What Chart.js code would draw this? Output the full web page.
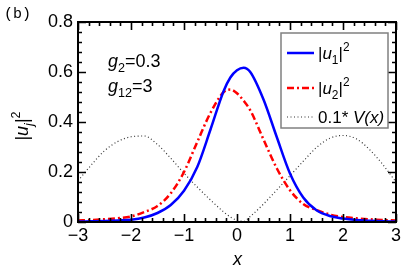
<!DOCTYPE html>
<html lang="en">
<head>
    <meta charset="UTF-8">
    <title>|u_j|^2</title>
    <script src="https://cdn.jsdelivr.net/npm/chart.js"></script>
</head>
<style>
    body {
        margin: 0;
        background-color: #fff;
    }
    canvas {
        display: block;
    }
</style>
<body>

<canvas id="waveChart" width="407" height="273"></canvas>

<script>
    // valores
    const xs   = [-3, -2.75, -2.5, -2.25, -2, -1.75, -1.5, -1.25, -1, -0.75, -0.5, -0.25, -0.125, 0, 0.125, 0.25, 0.5, 0.75, 1, 1.25, 1.5, 1.75, 2, 2.25, 2.5, 2.75, 3];
    const u1sq = [0.002, 0.003, 0.004, 0.006, 0.009, 0.018, 0.036, 0.068, 0.125, 0.22, 0.37, 0.525, 0.578, 0.607, 0.617, 0.60, 0.49, 0.34, 0.194, 0.098, 0.047, 0.024, 0.014, 0.008, 0.005, 0.003, 0.002];
    const u2sq = [0.006, 0.008, 0.011, 0.015, 0.022, 0.04, 0.064, 0.115, 0.2, 0.32, 0.437, 0.52, 0.53, 0.515, 0.485, 0.447, 0.33, 0.215, 0.127, 0.072, 0.048, 0.03, 0.02, 0.015, 0.011, 0.008, 0.006];
    const potV = [0.165, 0.228, 0.285, 0.322, 0.341, 0.344, 0.31, 0.255, 0.195, 0.14, 0.088, 0.04, 0.02, 0.007, 0.003, 0.022, 0.072, 0.128, 0.185, 0.243, 0.298, 0.335, 0.346, 0.333, 0.29, 0.23, 0.16];
    const xTicks = [-3, -2, -1, 0, 1, 2, 3];
    const yTicks = [0, 0.2, 0.4, 0.6, 0.8];

    const FONT = '"Liberation Sans", Arial, sans-serif';

    function pts(ys) {
        return xs.map((x, i) => ({x: x, y: ys[i]}));
    }

    // texto com itálico, subscrito e sobrescrito
    function rich(ctx, parts, x, y, size, measureOnly) {
        for (const [t, k] of parts) {
            let s = size, dy = 0, style = '';
            if (k.includes('i')) style = 'italic ';
            if (k.includes('sub')) { s = size * 0.7; dy = size * 0.3; }
            if (k.includes('sup')) { s = size * 0.7; dy = -size * 0.45; }
            ctx.font = style + s + 'px ' + FONT;
            if (!measureOnly) ctx.fillText(t, x, y + dy);
            x += ctx.measureText(t).width;
        }
        return x;
    }

    const framePlugin = {
        id: 'frame',
        afterDraw(chart) {
            const ctx = chart.ctx;
            const a = chart.chartArea;
            const sx = chart.scales.x, sy = chart.scales.y;
            ctx.save();
            ctx.strokeStyle = '#000';
            ctx.lineWidth = 2;
            ctx.strokeRect(a.left, a.top, a.right - a.left, a.bottom - a.top);

            // ticks para dentro
            ctx.lineWidth = 1.6;
            ctx.beginPath();
            for (let k = 0; k <= 30; k++) {
                const v = -3 + k * 0.2;
                const px = Math.round(sx.getPixelForValue(v)) + 0.5;
                const len = k % 5 === 0 ? 8 : 4;
                ctx.moveTo(px, a.bottom); ctx.lineTo(px, a.bottom - len);
                ctx.moveTo(px, a.top); ctx.lineTo(px, a.top + len);
            }
            for (let k = 0; k <= 20; k++) {
                const v = k * 0.04;
                const py = Math.round(sy.getPixelForValue(v)) + 0.5;
                const len = k % 5 === 0 ? 8 : 4;
                ctx.moveTo(a.left, py); ctx.lineTo(a.left + len, py);
                ctx.moveTo(a.right, py); ctx.lineTo(a.right - len, py);
            }
            ctx.stroke();

            ctx.fillStyle = '#000';
            ctx.textBaseline = 'alphabetic';
            ctx.textAlign = 'left';

            // (b)
            ctx.font = '15px "Liberation Mono", monospace';
            ctx.fillText('(b)', 4, 18);

            // parâmetros
            rich(ctx, [['g', 'i'], ['2', 'sub'], ['=0.3', 'n']], 108, 67, 18);
            rich(ctx, [['g', 'i'], ['12', 'sub'], ['=3', 'n']], 108, 92, 18);

            // título eixo x
            ctx.font = 'italic 18px ' + FONT;
            ctx.textAlign = 'center';
            ctx.fillText('x', 237.5, 265);
            ctx.textAlign = 'left';

            // título eixo y
            const yParts = [['|', 'n'], ['u', 'i'], ['j', 'isub'], ['|', 'n'], ['2', 'sup']];
            const w = rich(ctx, yParts, 0, 0, 18, true);
            ctx.save();
            ctx.translate(28, 126);
            ctx.rotate(-Math.PI / 2);
            rich(ctx, yParts, -w / 2, 0, 18);
            ctx.restore();

            // legenda
            const lx = 281, ly = 33, lw = 107, lh = 95;
            ctx.fillStyle = '#fff';
            ctx.fillRect(lx, ly, lw, lh);
            ctx.strokeStyle = '#808080';
            ctx.lineWidth = 1.5;
            ctx.strokeRect(lx, ly, lw, lh);
            const rows = [
                {y: 53, parts: [['|', 'n'], ['u', 'i'], ['1', 'sub'], ['|', 'n'], ['2', 'sup']]},
                {y: 88, parts: [['|', 'n'], ['u', 'i'], ['2', 'sub'], ['|', 'n'], ['2', 'sup']]},
                {y: 117, parts: [['0.1* ', 'n'], ['V(x)', 'i']]}
            ];
            rows.forEach((r, i) => {
                const ds = chart.data.datasets[i];
                ctx.strokeStyle = ds.borderColor;
                ctx.lineWidth = ds.borderWidth;
                ctx.setLineDash(ds.borderDash || []);
                ctx.beginPath();
                ctx.moveTo(287, r.y);
                ctx.lineTo(314, r.y);
                ctx.stroke();
                ctx.setLineDash([]);
                ctx.fillStyle = '#000';
                rich(ctx, r.parts, 318, r.y + 6, 17);
            });
            ctx.restore();
        }
    };

    const tickFont = {family: FONT, size: 18};

    const ctx = document.getElementById('waveChart').getContext('2d');
    const waveChart = new Chart(ctx, {
        type: 'scatter',
        data: {
            datasets: [{
                label: '|u1|^2',
                data: pts(u1sq),
                borderColor: '#0000ff',
                borderWidth: 2.5,
                showLine: true,
                pointRadius: 0,
                cubicInterpolationMode: 'monotone'
            }, {
                label: '|u2|^2',
                data: pts(u2sq),
                borderColor: '#ff0000',
                borderWidth: 2.5,
                borderDash: [7, 3, 2, 3],
                showLine: true,
                pointRadius: 0,
                cubicInterpolationMode: 'monotone'
            }, {
                label: '0.1*V(x)',
                data: pts(potV),
                borderColor: '#333333',
                borderWidth: 1.2,
                borderDash: [1, 2.5],
                showLine: true,
                pointRadius: 0,
                cubicInterpolationMode: 'monotone'
            }]
        },
        options: {
            responsive: false,
            animation: false,
            layout: {padding: {top: 22, right: 11, left: 0, bottom: 0}},
            plugins: {
                legend: {display: false},
                tooltip: {enabled: false}
            },
            scales: {
                x: {
                    type: 'linear',
                    min: xTicks[0],
                    max: xTicks[xTicks.length - 1],
                    afterBuildTicks: s => { s.ticks = xTicks.map(v => ({value: v})); },
                    ticks: {
                        color: '#000',
                        font: tickFont,
                        padding: 3,
                        maxRotation: 0,
                        callback: v => String(v).replace('-', '\u2212')
                    },
                    grid: {display: false, drawTicks: false},
                    border: {display: false},
                    afterFit: s => { s.height = 51; }
                },
                y: {
                    min: yTicks[0],
                    max: yTicks[yTicks.length - 1],
                    afterBuildTicks: s => { s.ticks = yTicks.map(v => ({value: v})); },
                    ticks: {
                        color: '#000',
                        font: tickFont,
                        padding: 5,
                        callback: v => v === 0 ? '0' : v.toFixed(1)
                    },
                    grid: {display: false, drawTicks: false},
                    border: {display: false},
                    afterFit: s => { s.width = 78; }
                }
            }
        },
        plugins: [framePlugin]
    });
</script>
</body>
</html>
